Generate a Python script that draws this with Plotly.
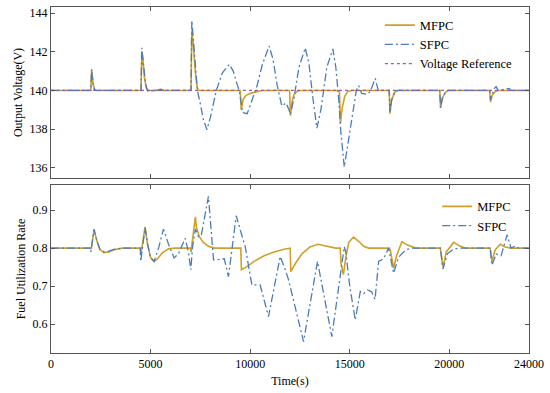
import plotly.graph_objects as go
from plotly.subplots import make_subplots

# ---------------- data ----------------
# Output voltage, MFPC
v_mfpc_t = [0, 2000, 2040, 2120, 2200, 2300, 4520, 4560, 4620, 4700, 4800, 4900,
            7030, 7070, 7150, 7250, 7350, 7450, 9500, 9550, 9650, 9800, 10000, 10400, 10600,
            11980, 12020, 12100, 12200, 12350, 12500, 14480, 14530, 14620, 14750, 14900, 15100,
            16980, 17020, 17100, 17250, 17400, 19520, 19560, 19650, 19800, 19950,
            22030, 22070, 22150, 22300, 22450, 24000]
v_mfpc_v = [140, 140, 141.05, 140.3, 140.02, 140, 140, 142.0, 141.5, 140.6, 140.1, 140,
            140, 143.1, 142.3, 140.9, 140.1, 140, 140, 139.0, 139.55, 139.75, 139.85, 139.95, 140,
            140, 138.7, 139.4, 139.8, 139.95, 140, 140, 138.3, 139.1, 139.7, 139.95, 140,
            140, 138.8, 139.5, 139.9, 140, 140, 139.1, 139.6, 139.9, 140,
            140, 139.4, 139.75, 139.95, 140, 140]

# Output voltage, SFPC
v_sfpc_t = [0, 2000, 2040, 2120, 2200, 4520, 4560, 4650, 4750, 4850, 5300, 5500, 5700,
            7030, 7070, 7150, 7250, 7350, 7500, 7650, 7830, 8000, 8300, 8600, 8950, 9150, 9350,
            9450, 9600, 9650, 9850, 10050, 10335, 10600, 10950, 11150, 11350, 11590, 11800,
            11950, 12020, 12200, 12450, 12765, 12950, 13150, 13350, 13550, 13850, 14150, 14300,
            14450, 14550, 14725, 14900, 15100, 15330, 15450, 15600, 15900, 16050, 16280, 16430,
            16980, 17020, 17100, 17250, 17400, 19520, 19560, 19650, 19800, 19950,
            22030, 22070, 22150, 22250, 22350, 22450, 23000, 23100, 24000]
v_sfpc_v = [140, 140, 141.1, 140.3, 140, 140, 142.2, 141.3, 140.3, 139.97, 140, 140.07, 140,
            140, 143.6, 142.6, 141.0, 140.0, 139.3, 138.5, 137.97, 138.6, 140.0, 140.9, 141.35, 141.0, 140.3,
            140.0, 139.0, 138.85, 138.8, 139.4, 140.2, 141.3, 142.3, 141.6, 140.3, 139.2, 139.35,
            139.0, 138.75, 139.6, 141.2, 142.2, 141.4, 139.6, 138.05, 139.0, 141.2, 142.15, 141.2,
            139.5, 137.9, 136.05, 137.2, 138.7, 140.0, 140.25, 139.85, 139.8, 140.0, 140.62, 140.0,
            140, 138.85, 139.5, 139.9, 140, 140, 139.1, 139.6, 139.9, 140,
            140, 139.5, 139.8, 140.1, 140.2, 140, 140.1, 140, 140]

# Voltage reference
ref_t = [0, 24000]
ref_v = [140, 140]

# Fuel utilization, MFPC
f_mfpc_t = [0, 2000, 2020, 2160, 2300, 2450, 2650, 2900, 3200, 3600, 4500, 4520, 4720, 4850,
            5000, 5180, 5350, 5600, 5900, 6200, 7000, 7030, 7250, 7300, 7450, 7650, 7900, 8200,
            9530, 9560, 9800, 10200, 10700, 11200, 11700, 12010, 12040, 12300, 12600, 13000,
            13400, 13800, 14300, 14520, 14560, 14680, 14800, 14950, 15190, 15450, 15700, 15950,
            16980, 17035, 17200, 17350, 17620, 17900, 18300, 19550, 19680, 19850, 20215, 20500,
            20800, 22050, 22140, 22300, 22560, 22800, 23100, 24000]
f_mfpc_v = [0.8, 0.8, 0.797, 0.848, 0.82, 0.797, 0.788, 0.79, 0.796, 0.8, 0.8, 0.785, 0.855, 0.81,
            0.775, 0.765, 0.772, 0.788, 0.798, 0.8, 0.8, 0.79, 0.882, 0.855, 0.83, 0.815, 0.805, 0.8,
            0.8, 0.743, 0.75, 0.765, 0.78, 0.79, 0.797, 0.8, 0.738, 0.762, 0.785, 0.803,
            0.81, 0.806, 0.8, 0.8, 0.76, 0.73, 0.775, 0.815, 0.829, 0.818, 0.805, 0.8,
            0.8, 0.795, 0.747, 0.78, 0.817, 0.808, 0.8, 0.8, 0.75, 0.79, 0.815, 0.806,
            0.8, 0.8, 0.765, 0.795, 0.81, 0.803, 0.8, 0.8]

# Fuel utilization, SFPC
f_sfpc_t = [0, 1980, 2000, 2160, 2300, 2450, 2650, 2900, 3200, 3600, 4480, 4505, 4725, 4850,
            5000, 5175, 5400, 5645, 5900, 6180, 6400, 6735, 6900, 7020, 7100, 7250, 7400, 7550,
            7905, 8160, 8450, 8700, 8910, 9100, 9300, 9500, 9750, 10085, 10500, 10920, 11200,
            11510, 11750, 11925, 12680, 13380, 14100, 14725, 14800, 15000, 15275, 15530, 15700,
            15900, 16100, 16270, 16450, 16700, 16950, 17200, 17450, 17800, 18100, 19550, 19680,
            19900, 20200, 20500, 22050, 22140, 22350, 22600, 22900, 23100, 23300, 23500, 24000]
f_sfpc_v = [0.8, 0.8, 0.79, 0.85, 0.82, 0.797, 0.79, 0.792, 0.797, 0.8, 0.8, 0.765, 0.854, 0.81,
            0.775, 0.765, 0.8, 0.85, 0.81, 0.774, 0.785, 0.826, 0.79, 0.743, 0.8, 0.85, 0.83, 0.835,
            0.936, 0.769, 0.77, 0.772, 0.725, 0.8, 0.885, 0.848, 0.804, 0.703, 0.703, 0.62, 0.7,
            0.778, 0.745, 0.717, 0.554, 0.765, 0.567, 0.804, 0.79, 0.7, 0.611, 0.686, 0.68,
            0.69, 0.685, 0.665, 0.765, 0.772, 0.8, 0.734, 0.776, 0.795, 0.8, 0.8, 0.745,
            0.785, 0.797, 0.8, 0.8, 0.755, 0.785, 0.78, 0.835, 0.8, 0.805, 0.8, 0.8]

x_ticks = [0, 5000, 10000, 15000, 20000, 24000]
v_ticks = [136, 138, 140, 142, 144]
f_ticks = [0.6, 0.7, 0.8, 0.9]

# ---------------- figure ----------------
C_MFPC = "#CFA02A"
C_SFPC = "#4A7DB8"
C_REF = "#A056B5"
FONT = "Liberation Serif, Times New Roman, serif"
DASHDOT = "8px,3px,2px,3px"
TICKFONT = dict(family=FONT, size=12, color="black")
TITLEFONT = dict(family=FONT, size=12, color="black")
LEGFONT = dict(family=FONT, size=12.5, color="black")

fig = make_subplots(rows=2, cols=1, shared_xaxes=False, vertical_spacing=0.02)

fig.add_trace(go.Scatter(x=v_mfpc_t, y=v_mfpc_v, mode="lines", name="MFPC",
                         line=dict(color=C_MFPC, width=1.6), legend="legend"), row=1, col=1)
fig.add_trace(go.Scatter(x=v_sfpc_t, y=v_sfpc_v, mode="lines", name="SFPC",
                         line=dict(color=C_SFPC, width=1.3, dash=DASHDOT), legend="legend"), row=1, col=1)
fig.add_trace(go.Scatter(x=ref_t, y=ref_v, mode="lines", name="Voltage Reference",
                         line=dict(color=C_REF, width=1.2, dash="dot"), legend="legend"), row=1, col=1)

fig.add_trace(go.Scatter(x=f_mfpc_t, y=f_mfpc_v, mode="lines", name="MFPC",
                         line=dict(color=C_MFPC, width=1.6), legend="legend2"), row=2, col=1)
fig.add_trace(go.Scatter(x=f_sfpc_t, y=f_sfpc_v, mode="lines", name="SFPC",
                         line=dict(color=C_SFPC, width=1.3, dash=DASHDOT), legend="legend2"), row=2, col=1)

axis_common = dict(showline=True, linecolor="#555555", linewidth=1, mirror="ticks",
                   ticks="inside", ticklen=4, tickcolor="#555555", showgrid=False,
                   zeroline=False, automargin=False, tickfont=TICKFONT)

fig.update_xaxes(range=[0, 24000], tickvals=x_ticks, **axis_common)
fig.update_xaxes(showticklabels=False, row=1, col=1)
fig.update_xaxes(ticktext=[str(t) for t in x_ticks],
                 title=dict(text="Time(s)", font=TITLEFONT, standoff=6),
                 row=2, col=1)
fig.update_yaxes(range=[135.48, 144.31], tickvals=v_ticks,
                 title=dict(text="Output Voltage(V)", font=TITLEFONT, standoff=4),
                 row=1, col=1, **axis_common)
fig.update_yaxes(range=[0.524, 0.966], tickvals=f_ticks, tickformat=".1f",
                 title=dict(text="Fuel Utilization Rate", font=TITLEFONT, standoff=4),
                 row=2, col=1, **axis_common)

fig.update_layout(
    width=550, height=393,
    margin=dict(l=51, r=21, t=7, b=40),
    paper_bgcolor="white", plot_bgcolor="white",
    font=dict(family=FONT, size=12, color="black"),
    xaxis=dict(domain=[0, 1]), xaxis2=dict(domain=[0, 1]),
    yaxis=dict(domain=[0.5058, 1]), yaxis2=dict(domain=[0, 0.4855]),
    legend=dict(x=0.688, y=0.99, xanchor="left", yanchor="top", bgcolor="rgba(0,0,0,0)",
                font=LEGFONT, tracegroupgap=0),
    legend2=dict(x=0.808, y=0.466, xanchor="left", yanchor="top", bgcolor="rgba(0,0,0,0)",
                 font=LEGFONT, tracegroupgap=0),
    showlegend=True,
)

fig.write_html("out.html", config={"displayModeBar": False},
               post_script="document.body.style.margin='0';")
